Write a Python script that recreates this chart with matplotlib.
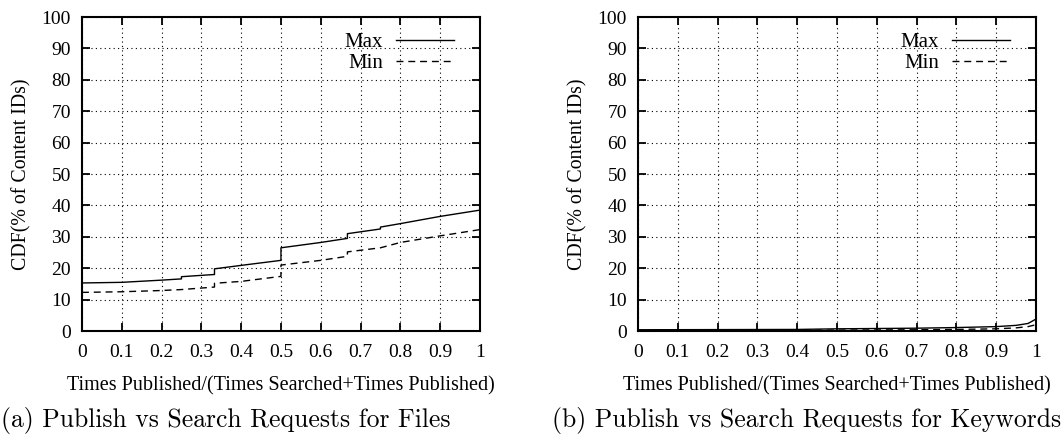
import matplotlib
matplotlib.use('Agg')
import matplotlib.pyplot as plt

# panel (a): files
files_x = [0.0, 0.1, 0.2, 0.25, 0.25, 0.333, 0.333, 0.4, 0.5, 0.5, 0.6, 0.667, 0.667, 0.75, 0.75, 0.8, 0.9, 1.0]
files_max = [15.3, 15.5, 16.2, 16.6, 17.3, 18.0, 19.8, 20.9, 22.5, 26.5, 28.2, 29.5, 31.0, 32.5, 33.1, 34.2, 36.5, 38.5]
files_min_x = [0.0, 0.1, 0.2, 0.25, 0.333, 0.333, 0.4, 0.5, 0.5, 0.6, 0.667, 0.667, 0.75, 0.8, 0.9, 1.0]
files_min = [12.3, 12.5, 12.9, 13.2, 14.0, 15.2, 15.8, 17.4, 21.0, 22.5, 23.8, 25.2, 26.5, 28.2, 30.3, 32.3]

# panel (b): keywords
kw_x = [0.0, 0.4, 0.5, 0.7, 0.8, 0.9, 0.95, 0.98, 1.0]
kw_max = [0.4, 0.5, 0.7, 0.9, 1.1, 1.4, 1.8, 2.4, 3.8]
kw_min = [0.2, 0.25, 0.3, 0.4, 0.5, 0.7, 1.0, 1.4, 2.0]

xticks = [0, 0.1, 0.2, 0.3, 0.4, 0.5, 0.6, 0.7, 0.8, 0.9, 1]
xticklabels = ['0', '0.1', '0.2', '0.3', '0.4', '0.5', '0.6', '0.7', '0.8', '0.9', '1']
yticks = list(range(0, 101, 10))

plt.rcParams['font.family'] = ['Liberation Serif', 'DejaVu Serif']


def draw_panel(fig, rect, x1, y1, x2, y2):
    ax = fig.add_axes(rect)
    ax.plot(x1, y1, color='black', linewidth=1.0, label='Max')
    ax.plot(x2, y2, color='black', linewidth=1.0, dashes=(5, 3.5), label='Min')
    ax.set_xlim(0, 1)
    ax.set_ylim(0, 100)
    ax.set_xticks(xticks)
    ax.set_xticklabels(xticklabels)
    ax.set_yticks(yticks)
    ax.tick_params(direction='in', top=True, right=True, length=6, width=1.3,
                   labelsize=14)
    ax.tick_params(axis='x', pad=9)
    ax.tick_params(axis='y', pad=8)
    ax.grid(True, linestyle=(0, (1, 3)), color='black', linewidth=0.8)
    for s in ax.spines.values():
        s.set_linewidth(1.5)
    ax.set_xlabel('Times Published/(Times Searched+Times Published)', fontsize=14.5, labelpad=11)
    ax.set_ylabel('CDF(% of Content IDs)', fontsize=14.3, labelpad=7)
    ax.legend(loc='upper right', bbox_to_anchor=(0.956, 0.976), frameon=False,
              markerfirst=False, fontsize=15, handlelength=2.8, handletextpad=0.6,
              labelspacing=0.05, borderaxespad=0.0)
    return ax


fig = plt.figure(figsize=(10.63, 4.34), dpi=100)
draw_panel(fig, [0.0771, 0.2373, 0.3744, 0.7235], files_x, files_max, files_min_x, files_min)
draw_panel(fig, [0.6002, 0.2373, 0.3744, 0.7235], kw_x, kw_max, kw_x, kw_min)
fig.text(0.001, 0.032, '(a) Publish vs Search Requests for Files', fontsize=18.5,
         family='cmr10', ha='left', va='center')
fig.text(0.998, 0.032, '(b) Publish vs Search Requests for Keywords', fontsize=18.5,
         family='cmr10', ha='right', va='center')
fig.savefig('out.png', dpi=100)
